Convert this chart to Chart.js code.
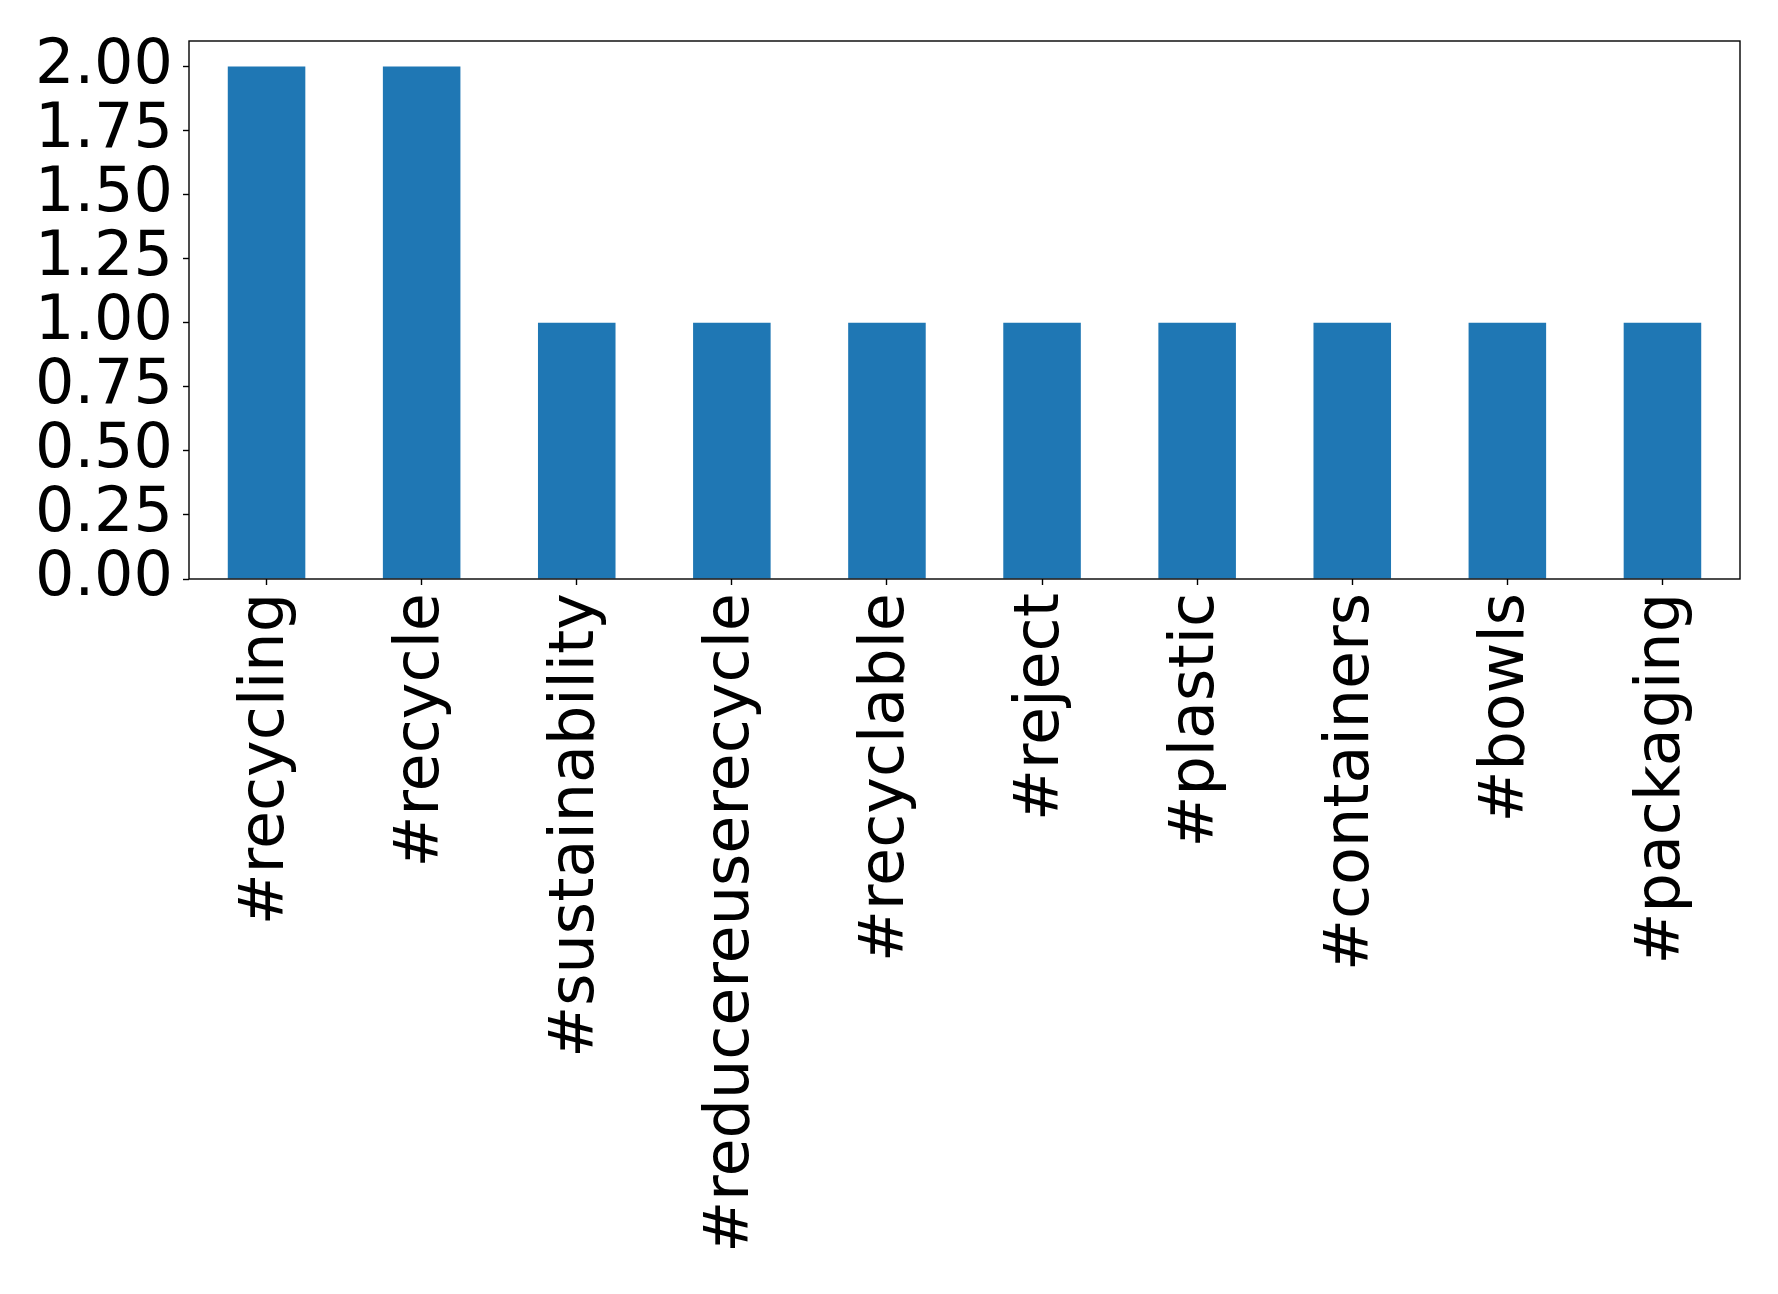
<!DOCTYPE html>
<html>
<head>
<meta charset="utf-8">
<script src="https://cdn.jsdelivr.net/npm/chart.js@4/dist/chart.umd.min.js"></script>
<style>
  html, body { margin: 0; padding: 0; background: #fff; }
  #wrap { width: 1778px; height: 1294px; }
</style>
</head>
<body>
<div id="wrap"><canvas id="hashtagChart" width="1778" height="1294"></canvas></div>
<script>
    // data
    var categories = [
        "#recycling", "#recycle", "#sustainability", "#reducereuserecycle",
        "#recyclable", "#reject", "#plastic", "#containers", "#bowls", "#packaging"
    ];
    var counts = [2, 2, 1, 1, 1, 1, 1, 1, 1, 1];
    var yMin = 0;
    var yMax = 2.1;
    var yStep = 0.25;

    //frame round the plot area
    var frame = {
        id: "frame",
        afterDraw: function (chart) {
            var a = chart.chartArea;
            var ctx = chart.ctx;
            ctx.save();
            ctx.strokeStyle = "#000";
            ctx.lineWidth = 1.4;
            ctx.strokeRect(a.left, a.top, a.right - a.left, a.bottom - a.top);
            ctx.restore();
        }
    };

    var ctxBar = document.getElementById("hashtagChart");
    var hashtagChart = new Chart(ctxBar, {
        type: "bar",
        data: {
            labels: categories,
            datasets: [
                {
                    label: "count",
                    data: counts,
                    backgroundColor: "#1f77b4",
                    borderWidth: 0,
                    categoryPercentage: 1.0,
                    barPercentage: 0.5
                }
            ]
        },
        options: {
            responsive: false,
            animation: false,
            layout: { padding: { top: 40, right: 38, left: 0, bottom: 0 } },
            plugins: {
                legend: { display: false },
                tooltip: { enabled: false }
            },
            scales: {
                x: {
                    afterFit: function (s) { s.height = 715; },
                    grid: {
                        display: true,
                        offset: false,
                        drawOnChartArea: false,
                        drawTicks: true,
                        tickLength: 6,
                        tickWidth: 1.4,
                        color: "#000"
                    },
                    border: { display: false },
                    ticks: {
                        color: "#000",
                        font: { family: "DejaVu Sans", size: 62 },
                        minRotation: 90,
                        maxRotation: 90,
                        autoSkip: false,
                        padding: 8
                    }
                },
                y: {
                    min: yMin,
                    max: yMax,
                    afterFit: function (s) { s.width = 189; },
                    grid: {
                        display: true,
                        drawOnChartArea: false,
                        drawTicks: true,
                        tickLength: 6,
                        tickWidth: 1.4,
                        color: "#000"
                    },
                    border: { display: false },
                    ticks: {
                        stepSize: yStep,
                        includeBounds: false,
                        autoSkip: false,
                        color: "#000",
                        font: { family: "DejaVu Sans", size: 62, lineHeight: 1 },
                        padding: 10,
                        callback: function (v) { return Number(v).toFixed(2); }
                    }
                }
            }
        },
        plugins: [frame]
    });
</script>
</body>
</html>
